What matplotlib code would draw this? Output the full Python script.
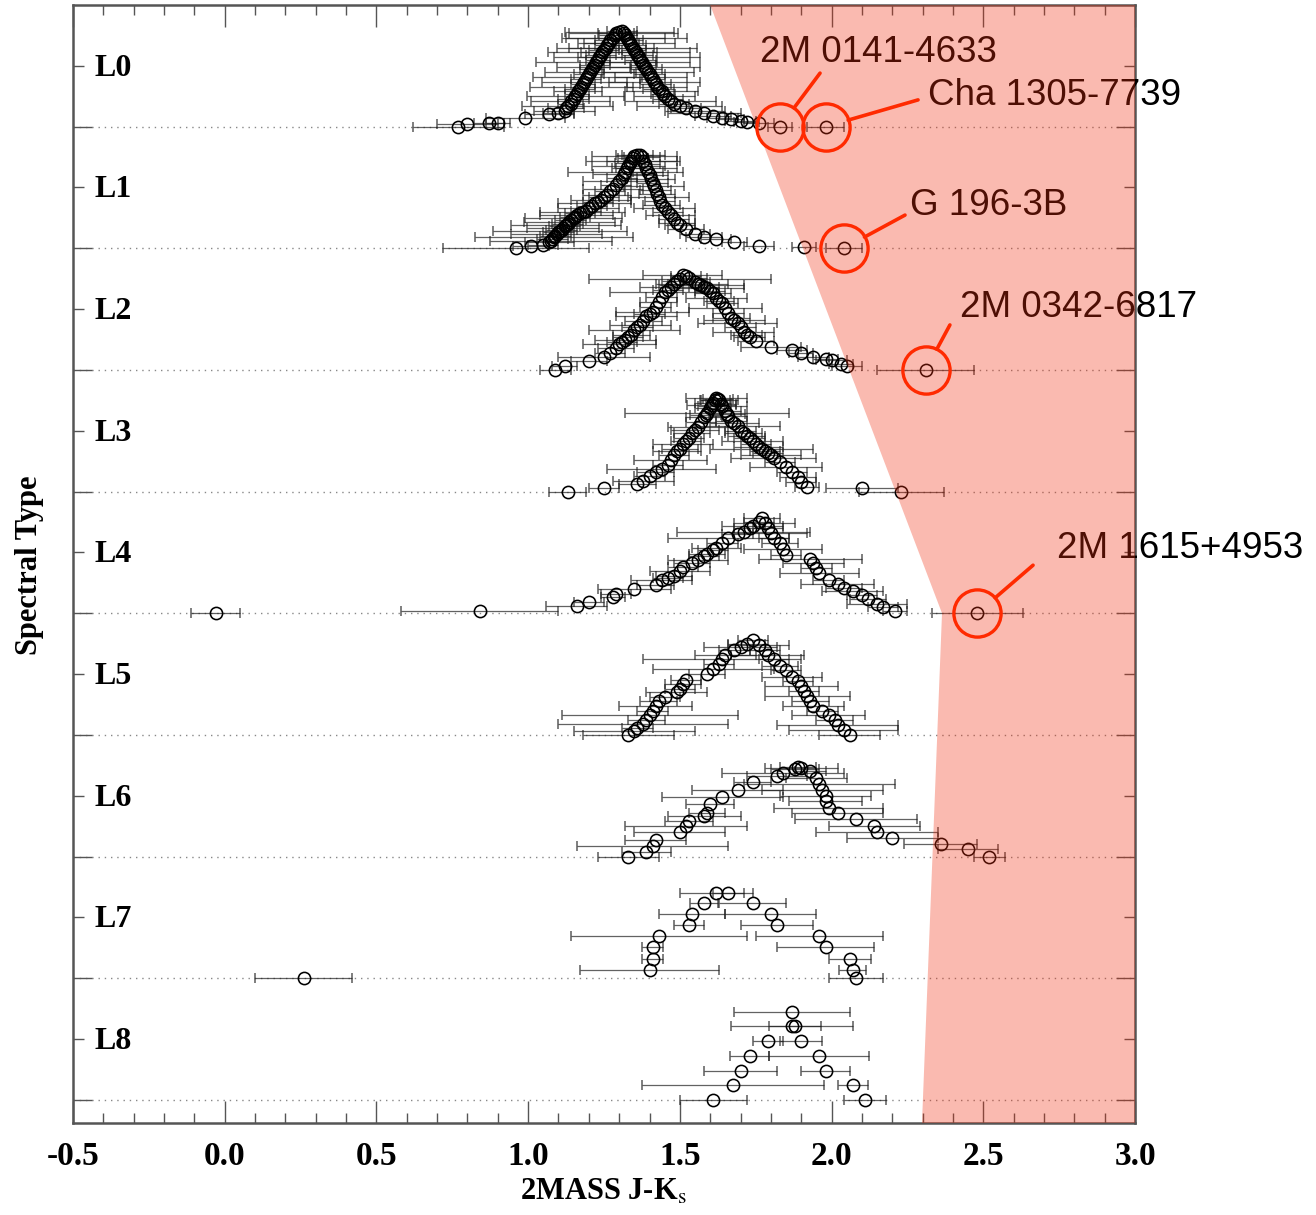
import matplotlib
matplotlib.use("Agg")
import matplotlib.pyplot as plt
from matplotlib.ticker import MultipleLocator, FixedLocator

# ---------------------------------------------------------------------------
# Spectral types and the J-Ks colour of each object (with its uncertainty).
# hgt_* is the vertical stacking offset of each point above its row baseline.
# ---------------------------------------------------------------------------
spectral_types = ["L0", "L1", "L2", "L3", "L4", "L5", "L6", "L7", "L8"]

jk_L0 = [0.77, 0.80, 0.87, 0.90, 0.99, 1.07, 1.10, 1.12,
         1.125, 1.13, 1.14, 1.14, 1.15, 1.155, 1.16, 1.165, 1.17, 1.175, 1.18, 1.185,
         1.19, 1.195, 1.20, 1.205, 1.21, 1.215, 1.22, 1.225, 1.23, 1.235, 1.24, 1.245,
         1.25, 1.255, 1.26, 1.265, 1.27, 1.28, 1.285, 1.29, 1.30,
         1.31, 1.315, 1.32, 1.325, 1.33, 1.335, 1.34, 1.345, 1.35, 1.355, 1.36, 1.365,
         1.37, 1.375, 1.38, 1.385, 1.39, 1.395, 1.40, 1.405, 1.41, 1.415, 1.42, 1.425,
         1.43, 1.44, 1.445, 1.45, 1.46, 1.47, 1.48, 1.50, 1.52, 1.55, 1.58, 1.61,
         1.64, 1.67, 1.70, 1.72, 1.76, 1.83, 1.98]
hgt_L0 = [0.00, 0.02, 0.03, 0.03, 0.07, 0.10, 0.11, 0.13,
          0.15, 0.17, 0.19, 0.21, 0.23, 0.25, 0.27, 0.29, 0.31, 0.33, 0.35, 0.37,
          0.39, 0.41, 0.43, 0.45, 0.47, 0.49, 0.51, 0.53, 0.55, 0.57, 0.59, 0.61,
          0.63, 0.65, 0.67, 0.69, 0.71, 0.73, 0.75, 0.77, 0.78,
          0.79, 0.77, 0.75, 0.73, 0.71, 0.69, 0.67, 0.65, 0.63, 0.61, 0.59, 0.57,
          0.55, 0.53, 0.51, 0.49, 0.47, 0.45, 0.43, 0.41, 0.39, 0.37, 0.35, 0.33,
          0.31, 0.29, 0.27, 0.25, 0.23, 0.21, 0.19, 0.17, 0.15, 0.13, 0.11, 0.09,
          0.07, 0.06, 0.05, 0.04, 0.03, 0.00, 0.00]
err_L0 = [0.15, 0.10, 0.05, 0.04, 0.13, 0.08, 0.05, 0.10,
          0.06, 0.15, 0.04, 0.13, 0.05, 0.16, 0.04, 0.08, 0.05, 0.17, 0.04, 0.14,
          0.05, 0.18, 0.05, 0.15, 0.04, 0.12, 0.05, 0.20, 0.04, 0.15, 0.05, 0.18,
          0.05, 0.16, 0.04, 0.10, 0.05, 0.17, 0.05, 0.06, 0.18,
          0.05, 0.18, 0.04, 0.20, 0.05, 0.15, 0.05, 0.21, 0.04, 0.18, 0.05, 0.20,
          0.05, 0.16, 0.04, 0.18, 0.05, 0.15, 0.05, 0.12, 0.04, 0.15, 0.05, 0.10,
          0.05, 0.12, 0.04, 0.10, 0.05, 0.15, 0.05, 0.14, 0.05, 0.10, 0.12, 0.06,
          0.05, 0.04, 0.05, 0.04, 0.05, 0.04, 0.06]

jk_L1 = [0.96, 1.01, 1.05, 1.07,
         1.075, 1.08, 1.085, 1.09, 1.095, 1.10, 1.105, 1.11, 1.115, 1.12, 1.125, 1.13,
         1.135, 1.14, 1.15, 1.155, 1.16, 1.17, 1.18, 1.19, 1.20, 1.21, 1.22, 1.23,
         1.24, 1.25, 1.26, 1.27, 1.28, 1.29, 1.30, 1.31, 1.315, 1.32, 1.325, 1.33,
         1.335, 1.34, 1.345, 1.35, 1.36,
         1.37, 1.375, 1.38, 1.385, 1.39, 1.395, 1.40, 1.405, 1.41, 1.415, 1.42, 1.425,
         1.43, 1.435, 1.44, 1.45, 1.46, 1.47, 1.48, 1.49, 1.50, 1.52, 1.55, 1.58,
         1.62, 1.68, 1.76, 1.91, 2.04]
hgt_L1 = [0.00, 0.02, 0.03, 0.05,
          0.06, 0.08, 0.09, 0.10, 0.12, 0.13, 0.14, 0.15, 0.17, 0.18, 0.19, 0.20,
          0.22, 0.23, 0.25, 0.26, 0.27, 0.29, 0.30, 0.31, 0.33, 0.35, 0.37, 0.38,
          0.40, 0.42, 0.44, 0.47, 0.49, 0.52, 0.55, 0.58, 0.61, 0.63, 0.66, 0.68,
          0.70, 0.72, 0.74, 0.76, 0.77,
          0.77, 0.75, 0.72, 0.69, 0.66, 0.63, 0.60, 0.57, 0.54, 0.51, 0.48, 0.45,
          0.42, 0.39, 0.36, 0.33, 0.30, 0.27, 0.24, 0.21, 0.19, 0.16, 0.12, 0.09,
          0.08, 0.05, 0.02, 0.01, 0.00]
err_L1 = [0.24, 0.06, 0.05, 0.08,
          0.20, 0.05, 0.26, 0.05, 0.15, 0.05, 0.22, 0.05, 0.12, 0.05, 0.18, 0.05,
          0.15, 0.05, 0.16, 0.05, 0.12, 0.05, 0.14, 0.05, 0.10, 0.05, 0.12, 0.05,
          0.10, 0.05, 0.08, 0.05, 0.10, 0.05, 0.12, 0.05, 0.10, 0.19, 0.05, 0.12,
          0.05, 0.15, 0.05, 0.14, 0.05,
          0.08, 0.06, 0.12, 0.05, 0.10, 0.05, 0.06, 0.08, 0.05, 0.10, 0.05, 0.06,
          0.10, 0.05, 0.06, 0.10, 0.05, 0.08, 0.05, 0.06, 0.05, 0.06, 0.05, 0.06,
          0.05, 0.04, 0.05, 0.04, 0.06]

jk_L2 = [1.09, 1.12, 1.20, 1.25, 1.27, 1.29, 1.30, 1.31, 1.32, 1.33, 1.34, 1.35,
         1.36, 1.37, 1.38, 1.39, 1.40, 1.41, 1.42, 1.43, 1.44, 1.45, 1.46, 1.47,
         1.48, 1.49, 1.50, 1.51,
         1.52, 1.53, 1.55, 1.56, 1.57, 1.58, 1.59, 1.60, 1.61, 1.62, 1.63, 1.64,
         1.65, 1.66, 1.67, 1.68, 1.69, 1.70, 1.71, 1.72, 1.73, 1.75, 1.80, 1.87,
         1.90, 1.94, 1.98, 2.00, 2.03, 2.05, 2.31]
hgt_L2 = [0.00, 0.03, 0.07, 0.11, 0.14, 0.18, 0.21, 0.23, 0.25, 0.27, 0.29, 0.33,
          0.35, 0.37, 0.40, 0.44, 0.46, 0.48, 0.52, 0.56, 0.60, 0.64, 0.66, 0.68,
          0.71, 0.73, 0.75, 0.78,
          0.77, 0.76, 0.72, 0.71, 0.70, 0.68, 0.67, 0.65, 0.63, 0.59, 0.57, 0.55,
          0.51, 0.47, 0.43, 0.41, 0.39, 0.35, 0.31, 0.29, 0.27, 0.24, 0.19, 0.16,
          0.14, 0.11, 0.09, 0.08, 0.05, 0.03, 0.00]
err_L2 = [0.05, 0.04, 0.06, 0.15, 0.05, 0.06, 0.12, 0.05, 0.10, 0.05, 0.06, 0.15,
          0.05, 0.10, 0.06, 0.10, 0.05, 0.12, 0.05, 0.06, 0.05, 0.18, 0.05, 0.10,
          0.06, 0.05, 0.30, 0.13,
          0.05, 0.06, 0.05, 0.10, 0.14, 0.05, 0.12, 0.05, 0.06, 0.10, 0.05, 0.05,
          0.12, 0.05, 0.06, 0.10, 0.13, 0.05, 0.10, 0.05, 0.05, 0.06, 0.10, 0.05,
          0.04, 0.05, 0.04, 0.05, 0.04, 0.05, 0.16]

jk_L3 = [1.13, 1.25, 1.36, 1.38, 1.40, 1.42, 1.44, 1.46, 1.47, 1.48, 1.49, 1.50,
         1.51, 1.52, 1.53, 1.54, 1.55, 1.56, 1.57, 1.58, 1.585, 1.59, 1.60, 1.605,
         1.61, 1.615, 1.62,
         1.625, 1.63, 1.635, 1.64, 1.65, 1.655, 1.66, 1.67, 1.68, 1.69, 1.70, 1.71,
         1.72, 1.73, 1.74, 1.75, 1.76, 1.77, 1.78, 1.79, 1.80, 1.81, 1.83, 1.85,
         1.87, 1.89, 1.90, 1.92, 2.10, 2.23]
hgt_L3 = [0.00, 0.03, 0.06, 0.09, 0.13, 0.16, 0.19, 0.22, 0.26, 0.30, 0.33, 0.35,
          0.39, 0.42, 0.44, 0.48, 0.51, 0.53, 0.57, 0.61, 0.63, 0.65, 0.69, 0.71,
          0.73, 0.75, 0.77,
          0.76, 0.75, 0.72, 0.70, 0.66, 0.64, 0.62, 0.58, 0.56, 0.54, 0.50, 0.48,
          0.46, 0.44, 0.42, 0.39, 0.37, 0.35, 0.33, 0.32, 0.30, 0.28, 0.24, 0.20,
          0.16, 0.12, 0.08, 0.04, 0.03, 0.00]
err_L3 = [0.06, 0.05, 0.06, 0.10, 0.05, 0.06, 0.18, 0.05, 0.12, 0.05, 0.08, 0.06,
          0.10, 0.05, 0.05, 0.06, 0.08, 0.10, 0.05, 0.06, 0.05, 0.27, 0.05, 0.08,
          0.06, 0.05, 0.10,
          0.05, 0.06, 0.05, 0.08, 0.05, 0.06, 0.06, 0.05, 0.08, 0.14, 0.05, 0.06,
          0.06, 0.05, 0.10, 0.05, 0.08, 0.17, 0.05, 0.05, 0.10, 0.14, 0.05, 0.12,
          0.05, 0.06, 0.05, 0.04, 0.12, 0.14]

jk_L4 = [-0.03, 0.84, 1.16, 1.20, 1.28, 1.29, 1.35, 1.42, 1.44, 1.46, 1.48, 1.50,
         1.51, 1.54, 1.56, 1.58, 1.59, 1.61, 1.62, 1.64, 1.66, 1.69, 1.71, 1.73,
         1.74, 1.76, 1.77,
         1.78, 1.79, 1.80, 1.81, 1.83, 1.84, 1.85, 1.93, 1.94, 1.95, 1.96, 1.99,
         2.02, 2.04, 2.07, 2.10, 2.12, 2.15, 2.17, 2.21, 2.48]
hgt_L4 = [0.00, 0.02, 0.06, 0.09, 0.13, 0.16, 0.20, 0.23, 0.27, 0.29, 0.31, 0.35,
          0.38, 0.41, 0.44, 0.47, 0.49, 0.52, 0.54, 0.58, 0.62, 0.65, 0.67, 0.70,
          0.72, 0.75, 0.78,
          0.74, 0.70, 0.66, 0.62, 0.58, 0.53, 0.48, 0.45, 0.41, 0.37, 0.33, 0.27,
          0.24, 0.21, 0.18, 0.15, 0.12, 0.08, 0.05, 0.02, 0.00]
err_L4 = [0.08, 0.26, 0.10, 0.05, 0.04, 0.05, 0.12, 0.06, 0.10, 0.05, 0.06, 0.10,
          0.05, 0.06, 0.10, 0.05, 0.06, 0.05, 0.08, 0.05, 0.20, 0.05, 0.22, 0.05,
          0.10, 0.05, 0.06,
          0.10, 0.05, 0.12, 0.05, 0.06, 0.13, 0.05, 0.17, 0.10, 0.05, 0.13, 0.05,
          0.12, 0.06, 0.10, 0.05, 0.06, 0.10, 0.05, 0.04, 0.15]

jk_L5 = [1.33, 1.35, 1.36, 1.38, 1.39, 1.40, 1.41, 1.42, 1.43, 1.45, 1.49, 1.50,
         1.51, 1.52, 1.59, 1.61, 1.63, 1.64, 1.65, 1.68, 1.70, 1.72, 1.74,
         1.76, 1.78, 1.79, 1.81, 1.83, 1.85, 1.87, 1.89, 1.90, 1.91, 1.92, 1.93,
         1.94, 1.97, 1.99, 2.01, 2.02, 2.04, 2.06]
hgt_L5 = [0.00, 0.03, 0.06, 0.09, 0.12, 0.16, 0.20, 0.24, 0.28, 0.31, 0.35, 0.38,
          0.42, 0.45, 0.50, 0.54, 0.58, 0.62, 0.66, 0.70, 0.72, 0.75, 0.78,
          0.74, 0.70, 0.66, 0.62, 0.57, 0.53, 0.48, 0.44, 0.40, 0.36, 0.32, 0.28,
          0.24, 0.20, 0.16, 0.12, 0.08, 0.04, 0.00]
err_L5 = [0.15, 0.20, 0.05, 0.28, 0.06, 0.29, 0.05, 0.12, 0.06, 0.05, 0.10, 0.05,
          0.06, 0.05, 0.06, 0.20, 0.05, 0.26, 0.10, 0.05, 0.12, 0.06, 0.05,
          0.10, 0.05, 0.12, 0.05, 0.06, 0.05, 0.10, 0.05, 0.12, 0.05, 0.14, 0.06,
          0.10, 0.05, 0.12, 0.06, 0.20, 0.18, 0.10]

jk_L6 = [1.33, 1.39, 1.41, 1.42, 1.50, 1.52, 1.53, 1.58, 1.59, 1.60, 1.64, 1.69,
         1.74, 1.82, 1.84, 1.88, 1.89, 1.90, 1.93, 1.95, 1.96, 1.97, 1.98, 1.98,
         1.99, 2.02, 2.08, 2.14, 2.15, 2.20, 2.36, 2.45, 2.52]
hgt_L6 = [0.00, 0.04, 0.09, 0.14, 0.20, 0.25, 0.29, 0.33, 0.36, 0.43, 0.49, 0.55,
          0.61, 0.66, 0.69, 0.72, 0.74, 0.73, 0.70, 0.65, 0.60, 0.55, 0.50, 0.46,
          0.40, 0.36, 0.31, 0.25, 0.20, 0.15, 0.10, 0.06, 0.00]
err_L6 = [0.10, 0.08, 0.25, 0.10, 0.15, 0.20, 0.08, 0.12, 0.06, 0.08, 0.20, 0.15,
          0.06, 0.10, 0.20, 0.08, 0.06, 0.12, 0.05, 0.10, 0.25, 0.20, 0.15, 0.12,
          0.18, 0.15, 0.20, 0.15, 0.20, 0.15, 0.12, 0.10, 0.05]

jk_L7 = [0.26, 1.40, 1.41, 1.41, 1.43, 1.53, 1.54, 1.58, 1.62, 1.66, 1.74, 1.80,
         1.82, 1.96, 1.98, 2.06, 2.07, 2.08]
hgt_L7 = [0.00, 0.07, 0.16, 0.26, 0.35, 0.44, 0.53, 0.62, 0.70, 0.70, 0.62, 0.53,
          0.44, 0.35, 0.26, 0.16, 0.07, 0.00]
err_L7 = [0.16, 0.23, 0.035, 0.035, 0.29, 0.05, 0.11, 0.045, 0.12, 0.05, 0.11, 0.15,
          0.12, 0.21, 0.16, 0.07, 0.045, 0.09]

jk_L8 = [1.61, 1.675, 1.70, 1.73, 1.79, 1.87, 1.88, 1.87, 1.90, 1.96, 1.98, 2.07, 2.11]
hgt_L8 = [0.00, 0.12, 0.24, 0.36, 0.48, 0.61, 0.61, 0.72, 0.48, 0.36, 0.24, 0.12, 0.00]
err_L8 = [0.11, 0.30, 0.12, 0.065, 0.05, 0.20, 0.085, 0.19, 0.07, 0.165, 0.08, 0.05, 0.07]

# Peculiar (unusually red) objects singled out on the plot
peculiar_names = ["2M 0141-4633", "Cha 1305-7739", "G 196-3B", "2M 0342-6817", "2M 1615+4953"]
peculiar_jk = [1.83, 1.98, 2.04, 2.31, 2.48]
peculiar_type = ["L0", "L0", "L1", "L2", "L4"]

jk_rows = [jk_L0, jk_L1, jk_L2, jk_L3, jk_L4, jk_L5, jk_L6, jk_L7, jk_L8]
hgt_rows = [hgt_L0, hgt_L1, hgt_L2, hgt_L3, hgt_L4, hgt_L5, hgt_L6, hgt_L7, hgt_L8]
err_rows = [err_L0, err_L1, err_L2, err_L3, err_L4, err_L5, err_L6, err_L7, err_L8]

# ---------------------------------------------------------------------------
plt.rcParams["font.family"] = ["Liberation Serif", "DejaVu Serif"]
plt.rcParams["mathtext.fontset"] = "stix"

fig = plt.figure(figsize=(13.16, 12.15), dpi=100)
ax = fig.add_axes([73 / 1316, 1 - 1123 / 1215, (1135 - 73) / 1316, (1123 - 5) / 1215])

ax.set_xlim(-0.5, 3.0)
ax.set_ylim(8.19, -1.0)

# dotted baseline for every spectral type
for k in range(len(spectral_types)):
    ax.axhline(k, color="#888888", lw=1.0, ls=(0, (1, 3.5)), zorder=1)

# stacked points with horizontal error bars
for k, (jk, hg, er) in enumerate(zip(jk_rows, hgt_rows, err_rows)):
    ys = [k - h for h in hg]
    ax.errorbar(jk, ys, xerr=er, fmt="o", ms=8.8, mfc="none", mec="black", mew=1.15,
                ecolor=(0.12, 0.12, 0.12, 0.7), elinewidth=0.9, capsize=3.5, capthick=0.9,
                zorder=2)
    ax.text(-0.43, k - 0.48, spectral_types[k], ha="left", va="center",
            fontsize=23, fontweight="bold", zorder=3)

# ticks
ax.xaxis.set_major_locator(MultipleLocator(0.5))
ax.xaxis.set_minor_locator(MultipleLocator(0.1))
ax.yaxis.set_major_locator(FixedLocator(list(range(len(spectral_types)))))
ax.yaxis.set_minor_locator(FixedLocator([k - 0.5 for k in range(len(spectral_types))]))
ax.tick_params(axis="both", which="both", direction="in", top=True, right=True,
               color="#555555", width=1.0)
ax.tick_params(axis="x", which="major", length=16, pad=13)
ax.tick_params(axis="x", which="minor", length=7.5)
ax.tick_params(axis="y", which="major", length=14)
ax.tick_params(axis="y", which="minor", length=8)
ax.set_yticklabels([])
ax.set_xticklabels([f"{v:.1f}" for v in ax.get_xticks()])
for lab in ax.get_xticklabels():
    lab.set_fontsize(24)
    lab.set_fontweight("bold")
for sp in ax.spines.values():
    sp.set_color("#555555")
    sp.set_linewidth(1.8)

fig.text(30 / 1316, 1 - 565 / 1215, "Spectral Type", rotation=90, ha="center",
         va="center", fontsize=22, fontweight="bold")
fig.text(603 / 1316, 1 - 1192 / 1215, r"2MASS J-K$_{\mathrm{s}}$", ha="center",
         va="center", fontsize=22, fontweight="bold")

# names of the peculiar objects (drawn beneath the shaded zone)
label_pos = [(1.764, -0.613), (2.318, -0.252), (2.259, 0.645), (2.424, 1.49), (2.743, 3.465)]
leader_start = [(1.962, -0.44), (2.285, -0.22), (2.242, 0.727), (2.39, 1.63), (2.664, 3.605)]
for name, (lx, ly) in zip(peculiar_names, label_pos):
    ax.text(lx, ly, name, ha="left", va="center", fontsize=26.5, color="black",
            family=["Liberation Sans", "DejaVu Sans"], zorder=3, clip_on=False)

# shaded zone of unusually red colours
zone_x = [1.60, 3.0, 3.0, 2.298, 2.364]
zone_y = [-1.0, -1.0, 8.19, 8.19, 4.0]
ax.fill(zone_x, zone_y, facecolor=(0.94, 0.18, 0.06), alpha=0.33, lw=0, zorder=4)

# circles and leader lines for the peculiar objects
red = "#ff2a00"
for jk, st, (sx, sy) in zip(peculiar_jk, peculiar_type, leader_start):
    row = spectral_types.index(st)
    ax.plot([jk], [row], "o", ms=34, mfc="none", mec=red, mew=2.4, zorder=7, clip_on=False)
    ax.annotate("", xy=(jk, row), xytext=(sx, sy),
                arrowprops=dict(arrowstyle="-", color=red, lw=2.6, shrinkA=0, shrinkB=17),
                zorder=7)

fig.savefig("out.png", dpi=100)
